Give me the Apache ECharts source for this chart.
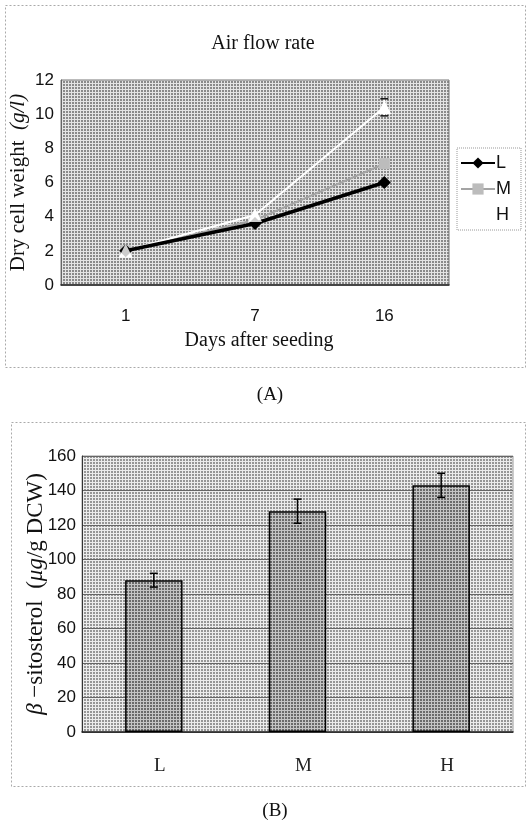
<!DOCTYPE html>
<html>
<head>
<meta charset="utf-8">
<script src="https://cdn.jsdelivr.net/npm/echarts@6/dist/echarts.min.js"></script>
<style>
  html, body { margin: 0; padding: 0; background: #fff; }
  #chart { width: 526px; height: 825px; }
</style>
</head>
<body>
<div id="chart"></div>
<script>
// Panel A: dry cell weight over time for three air flow rates
const days = ['1', '7', '16'];
const dcwL = [2.0, 3.6, 6.0];
const dcwM = [2.0, 3.8, 7.1];
const dcwH = [2.0, 4.1, 10.4];
const dcwHErr = [0, 0, 0.5];

// Panel B: beta-sitosterol content per air flow rate
const rates = ['L', 'M', 'H'];
const sitosterol = [88, 128, 143];
const sitosterolErr = [4, 7, 7];

const yTicksA = [0, 2, 4, 6, 8, 10, 12];
const yTicksB = [0, 20, 40, 60, 80, 100, 120, 140, 160];

// halftone-like dotted fill
function dotPattern(block, gap) {
  const c = document.createElement('canvas');
  c.width = 3; c.height = 3;
  const g = c.getContext('2d');
  g.fillStyle = gap; g.fillRect(0, 0, 3, 3);
  g.fillStyle = block; g.fillRect(0, 0, 2, 2);
  return { image: c, repeat: 'repeat' };
}
const plotFillA = dotPattern('#8a8a8a', '#e4e4e4');
const plotFillB = dotPattern('#969696', '#ececec');
const barFill = dotPattern('#6a6a6a', '#c4c4c4');

const serif = '"Liberation Serif", "DejaVu Serif", serif';
const sans = '"Liberation Sans", Arial, sans-serif';

function errorBars(xIndex, yIndex, values, errs, capHalf, lineColor, capColor) {
  return {
    type: 'custom',
    xAxisIndex: xIndex,
    yAxisIndex: yIndex,
    silent: true,
    z: 10,
    data: values.map((v, i) => [i, v, errs[i]]),
    renderItem: function (params, api) {
      const i = api.value(0), v = api.value(1), e = api.value(2);
      if (!e) return null;
      const hi = api.coord([i, v + e]);
      const lo = api.coord([i, v - e]);
      return {
        type: 'group',
        children: [
          { type: 'line', shape: { x1: hi[0], y1: hi[1], x2: lo[0], y2: lo[1] }, style: { stroke: lineColor, lineWidth: 1.5 } },
          { type: 'line', shape: { x1: hi[0] - capHalf, y1: hi[1], x2: hi[0] + capHalf, y2: hi[1] }, style: { stroke: capColor, lineWidth: 1.5 } },
          { type: 'line', shape: { x1: lo[0] - capHalf, y1: lo[1], x2: lo[0] + capHalf, y2: lo[1] }, style: { stroke: capColor, lineWidth: 1.5 } }
        ]
      };
    }
  };
}

const chart = echarts.init(document.getElementById('chart'), null, { renderer: 'canvas' });

chart.setOption({
  animation: false,
  backgroundColor: '#ffffff',
  title: [
    { text: 'Air flow rate', left: 258, top: 29, textAlign: 'center',
      textStyle: { fontFamily: serif, fontSize: 20, fontWeight: 'normal', color: '#111' } },
    { text: '(A)', left: 265, top: 381, textAlign: 'center',
      textStyle: { fontFamily: serif, fontSize: 19, fontWeight: 'normal', color: '#111' } },
    { text: '(B)', left: 270, top: 797, textAlign: 'center',
      textStyle: { fontFamily: serif, fontSize: 19, fontWeight: 'normal', color: '#111' } }
  ],
  legend: {
    data: ['L', 'M', 'H'],
    orient: 'vertical',
    left: 457,
    top: 148,
    itemWidth: 34,
    itemHeight: 14,
    itemGap: 8,
    padding: [6, 10, 6, 3],
    borderColor: '#999',
    borderWidth: 1,
    borderType: 'dotted',
    textStyle: { fontFamily: sans, fontSize: 18, color: '#111', padding: [0, 0, 0, -4] }
  },
  grid: [
    { left: 61, top: 80, width: 388, height: 205, show: true, backgroundColor: plotFillA,
      borderColor: '#777', borderWidth: 1 },
    { left: 82, top: 456, width: 431, height: 276, show: true, backgroundColor: plotFillB,
      borderColor: '#999', borderWidth: 1 }
  ],
  xAxis: [
    {
      gridIndex: 0, type: 'category', data: days, boundaryGap: true,
      name: 'Days after seeding', nameLocation: 'middle', nameGap: 46,
      nameTextStyle: { fontFamily: serif, fontSize: 20, color: '#111', padding: [0, 0, 0, 8] },
      axisLine: { lineStyle: { color: '#222', width: 1.5 } },
      axisTick: { show: false },
      axisLabel: { fontFamily: sans, fontSize: 17, color: '#111', margin: 23 }
    },
    {
      gridIndex: 1, type: 'category', data: rates, boundaryGap: true,
      axisLine: { lineStyle: { color: '#222', width: 1.5 } },
      axisTick: { show: false },
      axisLabel: { fontFamily: serif, fontSize: 19, color: '#222', margin: 25, padding: [0, 0, 0, 12] }
    }
  ],
  yAxis: [
    {
      gridIndex: 0, type: 'value', min: 0, max: 12, interval: 2,
      name: '{n|Dry cell weight  }{u|(g/l)}', nameLocation: 'middle', nameGap: 32,
      nameMoveOverlap: false,
      nameTextStyle: {
        rich: {
          n: { fontFamily: serif, fontSize: 21, color: '#111' },
          u: { fontFamily: serif, fontSize: 21, fontStyle: 'italic', color: '#111' }
        }
      },
      axisLine: { show: true, lineStyle: { color: '#666', width: 1 } },
      axisTick: { show: false },
      splitLine: { show: false },
      axisLabel: { fontFamily: sans, fontSize: 17, color: '#111', margin: 7 }
    },
    {
      gridIndex: 1, type: 'value', min: 0, max: 160, interval: 20,
      name: '{b|β}{n| −sitosterol  (}{u|μg}{n|/g DCW)}', nameLocation: 'middle', nameGap: 35,
      nameMoveOverlap: false,
      nameTextStyle: {
        rich: {
          b: { fontFamily: serif, fontSize: 23, fontStyle: 'italic', color: '#111' },
          n: { fontFamily: serif, fontSize: 23, color: '#111' },
          u: { fontFamily: serif, fontSize: 23, fontStyle: 'italic', color: '#111' }
        }
      },
      axisLine: { show: true, lineStyle: { color: '#333', width: 1 } },
      axisTick: { show: false },
      splitLine: { show: true, lineStyle: { color: '#666', width: 1 } },
      axisLabel: { fontFamily: sans, fontSize: 17, color: '#111', margin: 6 }
    }
  ],
  series: [
    {
      name: 'M', type: 'line', xAxisIndex: 0, yAxisIndex: 0, data: dcwM,
      lineStyle: { color: '#a4a4a4', width: 2 },
      itemStyle: { color: '#bcbcbc' },
      symbol: 'rect', symbolSize: 11, z: 3
    },
    {
      name: 'H', type: 'line', xAxisIndex: 0, yAxisIndex: 0, data: dcwH,
      lineStyle: { color: '#ffffff', width: 2 },
      itemStyle: { color: '#ffffff' },
      symbol: 'triangle', symbolSize: 13, z: 4
    },
    {
      name: 'L', type: 'line', xAxisIndex: 0, yAxisIndex: 0, data: dcwL,
      lineStyle: { color: '#000000', width: 3.5 },
      itemStyle: { color: '#000000' },
      symbol: 'diamond', symbolSize: 13, z: 5
    },
    {
      // H markers drawn above the L line
      name: 'H markers', type: 'scatter', xAxisIndex: 0, yAxisIndex: 0, data: dcwH,
      symbol: 'triangle', symbolSize: 14, itemStyle: { color: '#ffffff' }, z: 6, silent: true
    },
    errorBars(0, 0, dcwH, dcwHErr, 4, '#ffffff', '#111111'),
    {
      name: 'sitosterol', type: 'bar', xAxisIndex: 1, yAxisIndex: 1, data: sitosterol,
      barWidth: '40%',
      itemStyle: { color: barFill, borderColor: '#000', borderWidth: 1.5 }
    },
    errorBars(1, 1, sitosterol, sitosterolErr, 4, '#000000', '#000000')
  ],
  graphic: [
    { type: 'rect', silent: true, shape: { x: 5.5, y: 5.5, width: 520, height: 362 },
      style: { fill: null, stroke: '#aaa', lineWidth: 1, lineDash: [2, 2] } },
    { type: 'rect', silent: true, shape: { x: 11.5, y: 422.5, width: 514, height: 364 },
      style: { fill: null, stroke: '#aaa', lineWidth: 1, lineDash: [2, 2] } }
  ]
});
</script>
</body>
</html>
